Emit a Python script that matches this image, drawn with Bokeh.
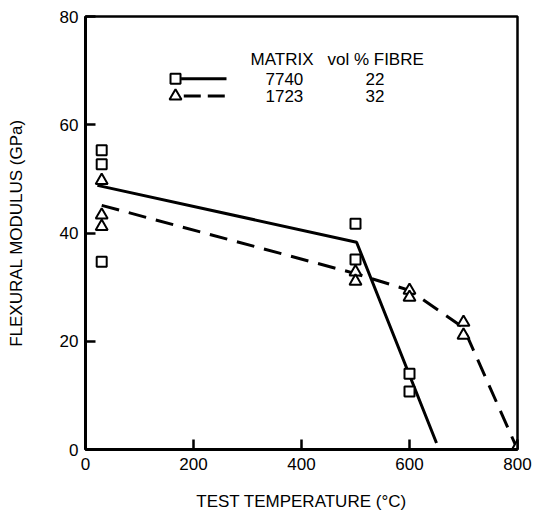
from bokeh.plotting import figure
from bokeh.models import Range1d, FixedTicker
from bokeh.core.properties import value
from bokeh.embed import file_html
from bokeh.resources import INLINE

# --- data ---
temp_7740 = [30, 30, 30, 500, 500, 600, 600]
mod_7740 = [55.3, 52.7, 34.7, 41.7, 35.1, 14.0, 10.7]
temp_1723 = [30, 30, 30, 500, 500, 600, 600, 700, 700, 800]
mod_1723 = [49.7, 43.3, 41.2, 32.8, 31.1, 29.4, 28.1, 23.5, 21.1, 0.5]

fit_7740_t = [22, 502, 650]
fit_7740_m = [48.8, 38.3, 1.2]
fit_1723_t = [30, 500, 600, 700, 800]
fit_1723_m = [45.1, 32.5, 29.4, 22.5, 0.0]

x_ticks = [0, 200, 400, 600, 800]
y_ticks = [0, 20, 40, 60, 80]

legend_header = ["MATRIX", "vol % FIBRE"]
legend_matrix = ["7740", "1723"]
legend_fibre = ["22", "32"]

FONT = "Liberation Sans"

p = figure(width=533, height=516, output_backend="svg", toolbar_location=None,
           x_range=Range1d(0, 800), y_range=Range1d(0, 80),
           min_border_left=85, min_border_right=16, min_border_top=16, min_border_bottom=67)
p.background_fill_color = "white"
p.border_fill_color = "white"
p.grid.visible = False
p.outline_line_color = "black"
p.outline_line_width = 2.5

for ax in (p.xaxis[0], p.yaxis[0]):
    ax.axis_line_width = 3
    ax.axis_line_color = "black"
    ax.major_tick_in = 10
    ax.major_tick_out = 0
    ax.major_tick_line_width = 2.5
    ax.minor_tick_line_color = None
    ax.major_label_text_font = FONT
    ax.major_label_text_font_size = "17px"
    ax.major_label_text_color = "black"
    ax.axis_label_text_font = FONT
    ax.axis_label_text_font_size = "17px"
    ax.axis_label_text_font_style = "normal"
    ax.axis_label_text_color = "black"

p.xaxis.ticker = FixedTicker(ticks=x_ticks)
p.yaxis.ticker = FixedTicker(ticks=y_ticks)
p.xaxis.axis_label = "TEST TEMPERATURE (°C)"
p.yaxis.axis_label = "FLEXURAL MODULUS (GPa)"
p.xaxis.major_label_standoff = 8
p.xaxis.axis_label_standoff = 19
p.yaxis.major_label_standoff = 7
p.yaxis.axis_label_standoff = 31

# fitted lines
p.line(fit_7740_t, fit_7740_m, line_color="black", line_width=3)
p.line(fit_1723_t, fit_1723_m, line_color="black", line_width=3, line_dash="18 10")

# data points
p.scatter(temp_7740, mod_7740, marker="square", size=10, fill_color="white",
          line_color="black", line_width=2)
p.scatter(temp_1723, mod_1723, marker="triangle", size=12, fill_color="white",
          line_color="black", line_width=2)

# legend table (in data coordinates)
col_sym = 166.7
col_line0, col_line1 = 177.0, 261.1
col_matrix = 333.3
col_fibre = 518.5
row_head, row1, row2 = 72.1, 68.5, 65.3

p.text(x=[305.6, 448.1], y=[row_head, row_head], text=legend_header,
       text_font=value(FONT), text_font_size="17px", text_baseline="middle",
       text_align="left", text_color="black")
p.text(x=[col_matrix, col_matrix], y=[row1, row2], text=legend_matrix,
       text_font=value(FONT), text_font_size="17px", text_baseline="middle",
       text_align="left", text_color="black")
p.text(x=[col_fibre, col_fibre], y=[row1, row2], text=legend_fibre,
       text_font=value(FONT), text_font_size="17px", text_baseline="middle",
       text_align="left", text_color="black")
p.line([col_line0, col_line1], [row1, row1], line_color="black", line_width=3)
p.line([col_line0 + 5, col_line1], [row2, row2], line_color="black", line_width=3,
       line_dash="17 7")
p.scatter([col_sym], [row1], marker="square", size=10, fill_color="white",
          line_color="black", line_width=2)
p.scatter([col_sym], [row2], marker="triangle", size=12, fill_color="white",
          line_color="black", line_width=2)

open("out.html", "w").write(file_html(p, INLINE))
